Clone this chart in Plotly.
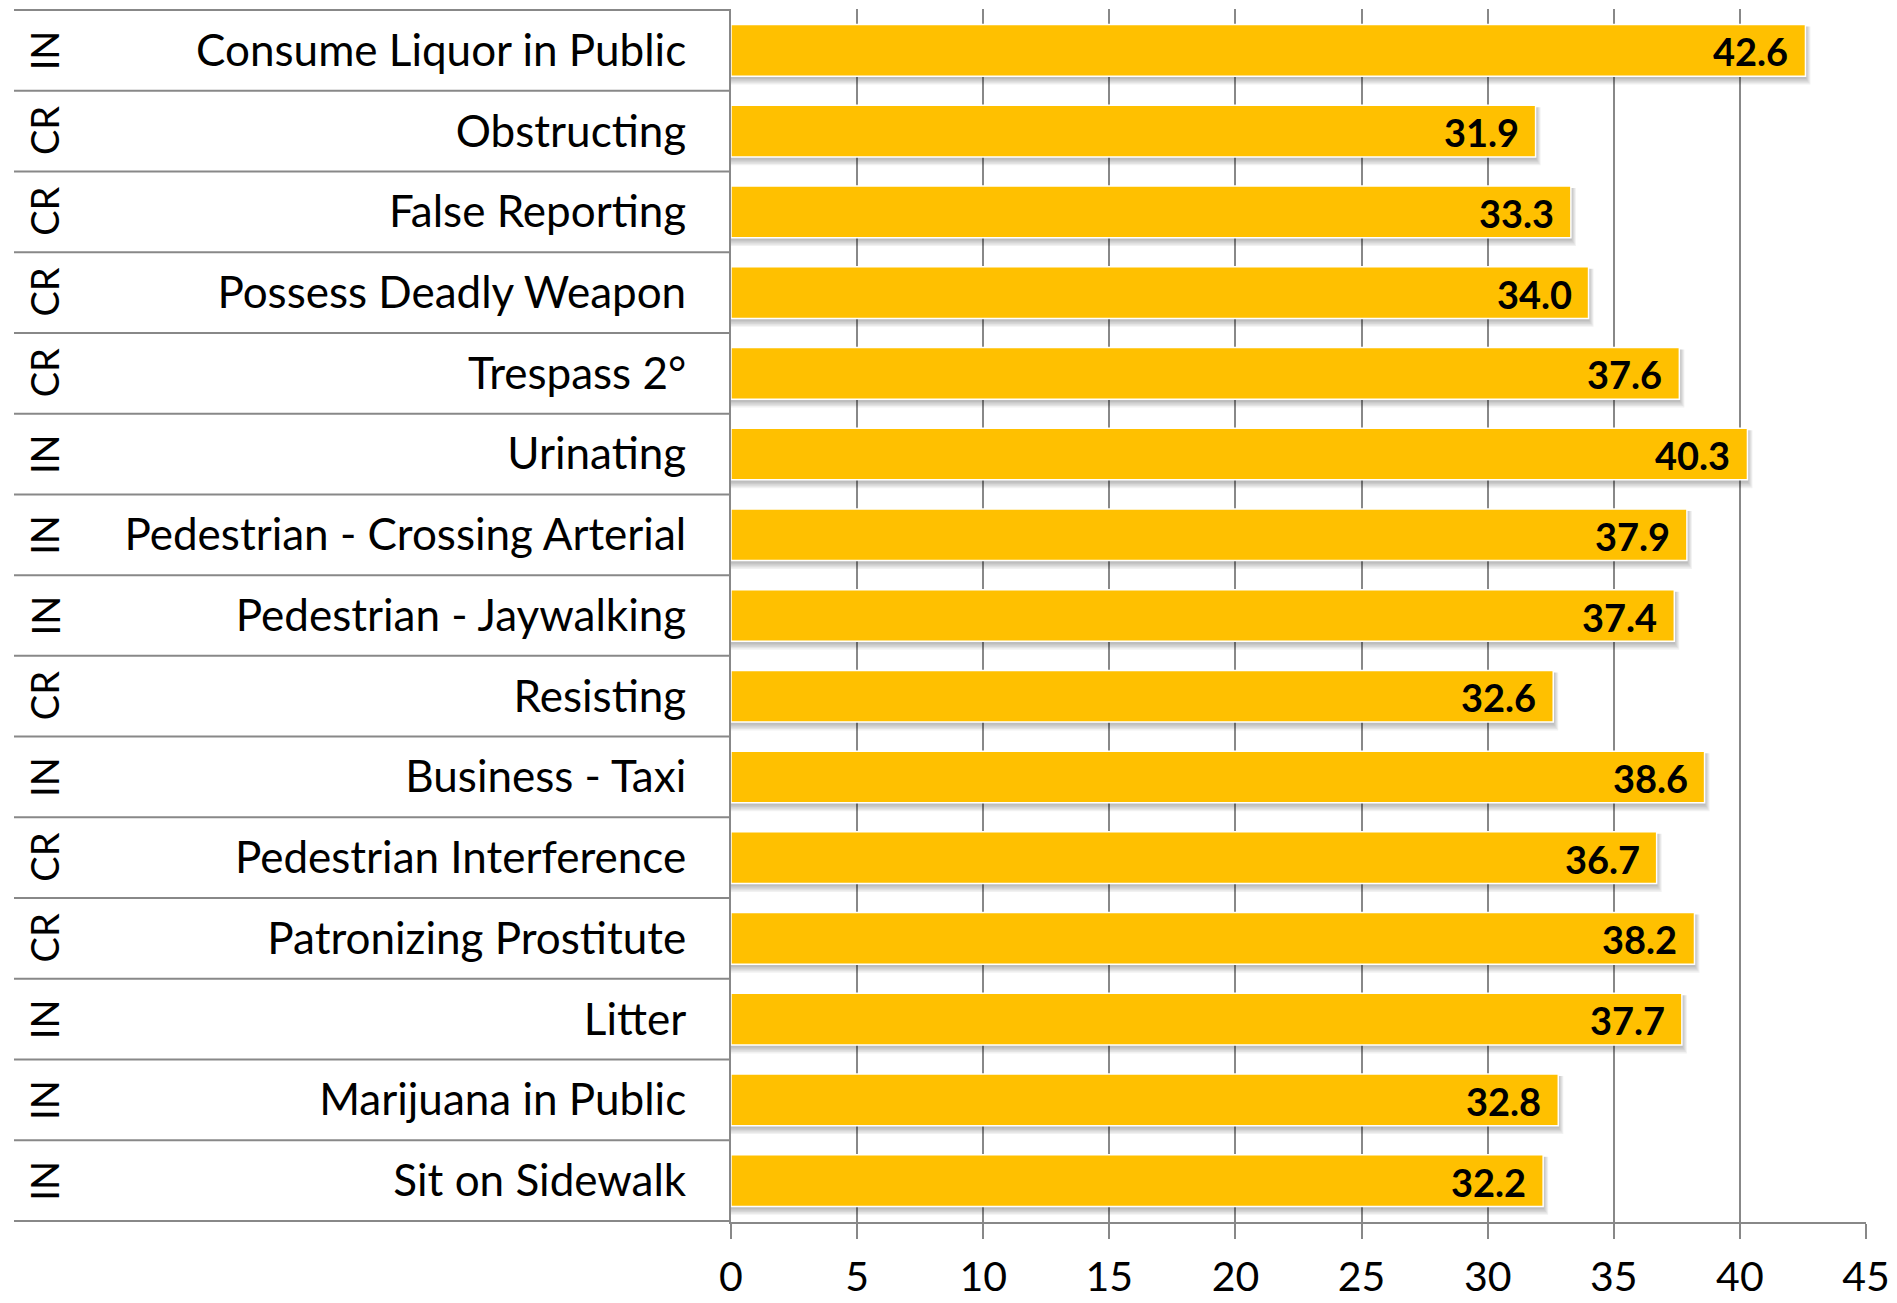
import plotly.graph_objects as go

# Offence categories (top to bottom), their class and the mean value
offences = [
    "Consume Liquor in Public", "Obstructing", "False Reporting",
    "Possess Deadly Weapon", "Trespass 2°", "Urinating",
    "Pedestrian - Crossing Arterial", "Pedestrian - Jaywalking", "Resisting",
    "Business - Taxi", "Pedestrian Interference", "Patronizing Prostitute",
    "Litter", "Marijuana in Public", "Sit on Sidewalk",
]
classes = ["IN", "CR", "CR", "CR", "CR", "IN", "IN", "IN", "CR",
           "IN", "CR", "CR", "IN", "IN", "IN"]
values = [42.6, 31.9, 33.3, 34.0, 37.6, 40.3, 37.9, 37.4, 32.6,
          38.6, 36.7, 38.2, 37.7, 32.8, 32.2]
x_ticks = [0, 5, 10, 15, 20, 25, 30, 35, 40, 45]

FONT = "Lato"
GOLD = "#FFC000"
GRID = "#888888"

W, H = 1897, 1303
M_L, M_R, M_T, M_B = 731, 31, 9, 81
plot_w = W - M_L - M_R
bar_half = 0.32

fig = go.Figure(go.Bar(
    x=values, y=offences, orientation="h",
    marker=dict(color=GOLD, line=dict(color="white", width=1.5)),
    width=2 * bar_half, hoverinfo="x+y",
))

shapes = []
annotations = []
px_y = 1.0 / ((H - M_T - M_B) / len(offences))   # one pixel in row units
px_x = 45.0 / plot_w                             # one pixel in value units

for i, (name, cls, v) in enumerate(zip(offences, classes, values)):
    # soft drop shadow under each bar
    for k in range(5):
        shapes.append(dict(
            type="rect", layer="between", xref="x", yref="y",
            x0=0, x1=v + (k + 1) * 1.0 * px_x,
            y0=i - bar_half + 2 * px_y, y1=i + bar_half + (k + 2) * 1.4 * px_y,
            line=dict(width=0), fillcolor="rgba(0,0,0,0.055)",
        ))
    # value label inside the bar end
    annotations.append(dict(
        x=v, y=name, xref="x", yref="y", xanchor="right", yanchor="middle",
        xshift=-15, yshift=-1, showarrow=False, text=f"<b>{v:.1f}</b>",
        font=dict(family=FONT, size=38, color="black"),
    ))
    # class label, rotated, in the left column
    annotations.append(dict(
        x=(44 - M_L) / plot_w, y=name, xref="paper", yref="y",
        xanchor="center", yanchor="middle", showarrow=False, text=cls,
        textangle=-90, font=dict(family=FONT, size=38, color="black"),
    ))

# row separators across the label columns
for b in range(len(offences) + 1):
    yb = b - 0.5
    shapes.append(dict(
        type="line", xref="paper", yref="y",
        x0=(14 - M_L) / plot_w, x1=0, y0=yb, y1=yb,
        line=dict(color=GRID, width=2),
    ))

fig.update_layout(
    width=W, height=H,
    margin=dict(l=M_L, r=M_R, t=M_T, b=M_B, pad=0, autoexpand=False),
    plot_bgcolor="white", paper_bgcolor="white",
    showlegend=False, bargap=0.36,
    shapes=shapes, annotations=annotations,
    font=dict(family=FONT, color="black"),
    xaxis=dict(
        range=[0, 45], tickvals=x_ticks, showgrid=True, gridcolor=GRID,
        gridwidth=1.5, zeroline=False, showline=True, linecolor=GRID,
        linewidth=2, ticks="outside", ticklen=15, tickcolor=GRID,
        tickwidth=1.5, ticklabelstandoff=3, automargin=False,
        tickfont=dict(family=FONT, size=41, color="black"),
        fixedrange=True,
    ),
    yaxis=dict(
        categoryorder="array", categoryarray=offences, autorange="reversed",
        showgrid=False, zeroline=False, showline=True, linecolor=GRID,
        linewidth=2, ticks="", ticklabelstandoff=34, automargin=False,
        tickfont=dict(family=FONT, size=44, color="black"),
        fixedrange=True,
    ),
)

fig.write_html("out.html")
